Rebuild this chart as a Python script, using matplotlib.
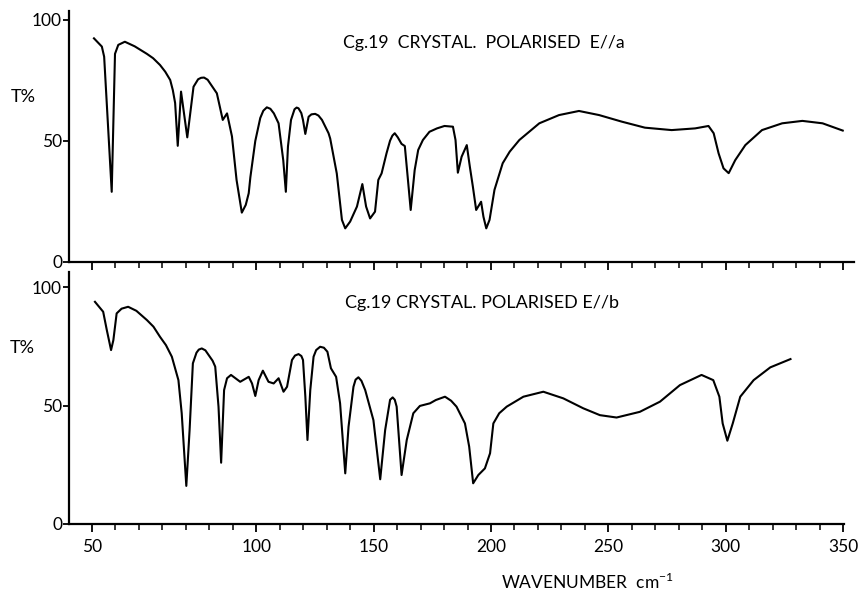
import numpy as np
import matplotlib
matplotlib.use("Agg")
import matplotlib.pyplot as plt

plt.rcParams['font.family'] = ['Lato', 'DejaVu Sans']
plt.rcParams['mathtext.fontset'] = 'custom'
plt.rcParams['mathtext.rm'] = 'Lato'

# ---------------- data (wavenumber cm-1, transmittance %) ----------------
wn_a = [50.6, 53.0, 53.7, 56.0, 57.0, 58.0, 60.0, 63.0, 66.7, 68.6, 70.7, 72.3,
        73.8, 74.6, 75.3, 76.1, 77.1, 79.0, 80.9, 82.3, 83.2, 84.1, 85.2, 86.3,
        88.0, 89.8, 91.1, 92.6, 94.0, 95.6, 96.8, 97.7, 98.2, 99.7, 101.7, 103.0,
        104.5, 106.0, 107.5, 109.5, 111.5, 112.6, 113.5, 114.8, 116.3, 117.2,
        118.0, 119.2, 119.9, 120.9, 122.3, 123.5, 125.1, 126.5, 128.0, 130.8,
        131.5, 134.3, 136.5, 137.9, 140.0, 142.9, 145.2, 146.8, 148.5, 150.6,
        152.0, 153.4, 155.5, 157.0, 158.0, 159.0, 160.3, 161.9, 163.3, 164.5,
        165.8, 167.5, 169.0, 171.0, 173.8, 177.0, 180.2, 183.8, 184.9, 185.9,
        187.5, 189.7, 191.0, 192.3, 193.7, 195.0, 195.8, 196.8, 198.0, 199.4,
        201.5, 205.0, 208.0, 212.1, 220.6, 229.0, 237.5, 246.1, 255.7, 265.6,
        277.0, 287.0, 292.7, 294.9, 297.0, 299.1, 301.3, 304.1, 308.4, 315.5,
        324.1, 332.7, 341.3, 349.9]
T_a = [92.4, 89.0, 84.8, 29.0, 86.0, 89.7, 91.0, 89.1, 86.0, 84.2, 81.4, 78.6,
       75.2, 71.0, 65.7, 48.0, 70.4, 51.5, 72.4, 75.5, 76.1, 76.2, 75.3, 73.1,
       69.7, 58.7, 61.4, 51.9, 33.9, 20.4, 23.6, 28.4, 35.0, 50.0, 59.5, 62.5,
       63.9, 63.3, 61.4, 57.3, 42.0, 29.0, 47.7, 58.7, 63.1, 63.8,
       63.5, 61.5, 58.7, 52.9, 60.0, 61.0, 61.2, 60.5, 58.7, 53.2,
       51.0, 36.6, 17.4, 13.9, 16.7, 22.9, 32.2, 22.9, 18.0, 20.8,
       33.9, 36.6, 44.9, 50.1, 52.2, 53.2, 51.5, 48.8, 47.9, 35.3,
       21.5, 38.0, 46.3, 50.4, 53.8, 55.2, 56.2, 55.9, 50.4, 36.9,
       43.5, 48.3, 39.4, 31.1, 21.5, 23.6, 24.9, 18.7, 13.9, 17.4,
       29.8, 40.8, 45.6, 50.4, 57.3, 60.7, 62.4, 60.7, 58.0, 55.5,
       54.5, 55.2, 56.2, 53.2, 44.9, 38.7, 36.7, 42.1, 48.3, 54.5,
       57.3, 58.3, 57.3, 54.3]

wn_b = [50.9, 53.4, 54.5, 55.8, 56.5, 57.5, 59.0, 61.0, 63.5, 66.7, 68.7, 70.7,
        72.5, 74.3, 76.3, 77.3, 78.7, 79.7, 80.7, 81.8, 82.5, 83.4, 84.5, 85.5,
        86.7, 87.5, 88.5, 89.3, 90.2, 91.1, 92.3, 95.1, 97.7, 98.7, 99.7, 101.0,
        102.8, 105.2, 107.4, 109.5, 111.6, 113.1, 115.2, 116.5, 118.0, 119.2,
        119.9, 120.9, 121.8, 123.0, 124.4, 125.5, 127.2, 128.8, 130.3, 131.8,
        134.0, 135.7, 137.9, 139.3, 141.4, 142.3, 143.5, 144.8, 146.4, 149.9,
        152.8, 154.9, 157.0, 158.1, 159.0, 159.8, 161.9, 164.1, 166.9, 169.7,
        174.0, 176.5, 180.4, 183.0, 185.3, 188.9, 190.7, 192.4, 194.6, 197.4,
        199.6, 201.0, 203.5, 206.7, 213.8, 222.3, 230.8, 239.3, 246.4, 253.5,
        263.4, 272.0, 280.5, 289.7, 294.7, 297.3, 298.7, 300.7, 303.0, 306.2,
        311.9, 319.0, 327.6]
T_b = [93.9, 89.7, 82.0, 73.5, 77.7, 89.0, 91.0, 91.8, 90.1, 86.2, 83.4, 79.1,
       75.6, 70.7, 60.8, 46.8, 16.1, 39.7, 67.9, 72.4, 73.7, 74.2, 73.4, 71.4,
       69.0, 66.5, 49.6, 25.9, 56.6, 61.6, 63.0, 60.1, 62.2, 59.4, 54.1, 60.8,
       64.8, 60.1, 59.4, 61.6, 55.9, 58.0, 69.3, 71.2, 71.8, 71.0,
       69.3, 53.8, 35.5, 56.6, 70.7, 73.5, 74.9, 74.5, 72.8, 65.8,
       62.2, 51.0, 21.4, 41.1, 58.0, 61.0, 62.0, 60.5, 56.6, 43.9,
       18.9, 39.7, 52.5, 53.5, 52.5, 49.6, 20.7, 35.5, 46.8, 49.9,
       51.0, 52.4, 53.8, 52.1, 49.6, 42.5, 32.7, 17.2, 20.7, 23.5,
       29.9, 42.5, 46.8, 49.6, 53.8, 55.9, 53.1, 48.9, 46.0, 45.0,
       47.4, 51.7, 58.7, 63.0, 60.8, 53.8, 42.5, 35.2, 42.5, 53.8,
       60.8, 66.2, 69.7]

major_ticks = [50, 100, 150, 200, 250, 300, 350]
major_labels = ['50', '100', '150', '200', '250', '300', '350']
y_ticks = [0, 50, 100]
title_a = 'Cg.19  CRYSTAL.  POLARISED  E//a'
title_b = 'Cg.19 CRYSTAL. POLARISED E//b'

# chart scale: expanded by 1.4x below 100 cm-1 (scale change)
def fwd(x):
    x = np.asarray(x, dtype=float)
    return np.where(x < 100, 100 - (100 - x) * 1.4, x)

def inv(t):
    t = np.asarray(t, dtype=float)
    return np.where(t < 100, 100 - (100 - t) / 1.4, t)

minor_ticks = [float(v) for v in inv(np.arange(30, 351, 10))]

fig = plt.figure(figsize=(8.62, 5.96), dpi=100)
W, H = 862, 596
ax_a = fig.add_axes([69 / W, 1 - 262 / H, (854 - 69) / W, (262 - 11) / H])
ax_b = fig.add_axes([69 / W, 1 - 524 / H, (844 - 69) / W, (524 - 272) / H])

for ax, wn, T, ylim_top, xr in ((ax_a, wn_a, T_a, 103.7, 354.7),
                                (ax_b, wn_b, T_b, 106.5, 350.4)):
    ax.set_xscale('function', functions=(fwd, inv))
    ax.plot(wn, T, color='black', lw=1.5, solid_joinstyle='round')
    ax.set_xlim(43.0, xr)
    ax.set_ylim(0, ylim_top)
    for s in ('top', 'right'):
        ax.spines[s].set_visible(False)
    for s in ('left', 'bottom'):
        ax.spines[s].set_linewidth(1.6)
    ax.set_xticks(major_ticks)
    ax.set_xticks(minor_ticks, minor=True)
    ax.set_yticks(y_ticks)
    ax.set_yticklabels([str(v) for v in y_ticks], fontsize=12.5)
    ax.tick_params(axis='x', which='major', direction='out', length=6, width=1.3)
    ax.tick_params(axis='x', which='minor', direction='out', length=4.5, width=1.1)
    ax.tick_params(axis='y', direction='out', length=4, width=1.3, pad=1)

ax_a.set_xticklabels([])
ax_b.set_xticklabels(major_labels, fontsize=12.5)
ax_b.tick_params(axis='x', which='major', pad=5)

fig.text(343 / W, 1 - 43 / H, title_a, fontsize=12.7, ha='left', va='center')
fig.text(345 / W, 1 - 303 / H, title_b, fontsize=13, ha='left', va='center')
fig.text(11 / W, 1 - 97 / H, 'T%', fontsize=13, ha='left', va='center')
fig.text(10 / W, 1 - 348 / H, 'T%', fontsize=13, ha='left', va='center')
fig.text(587 / W, 1 - 582 / H, r'WAVENUMBER  cm$^{\mathregular{-1}}$', fontsize=12.5,
         ha='center', va='center')

fig.savefig('out.png', dpi=100)
